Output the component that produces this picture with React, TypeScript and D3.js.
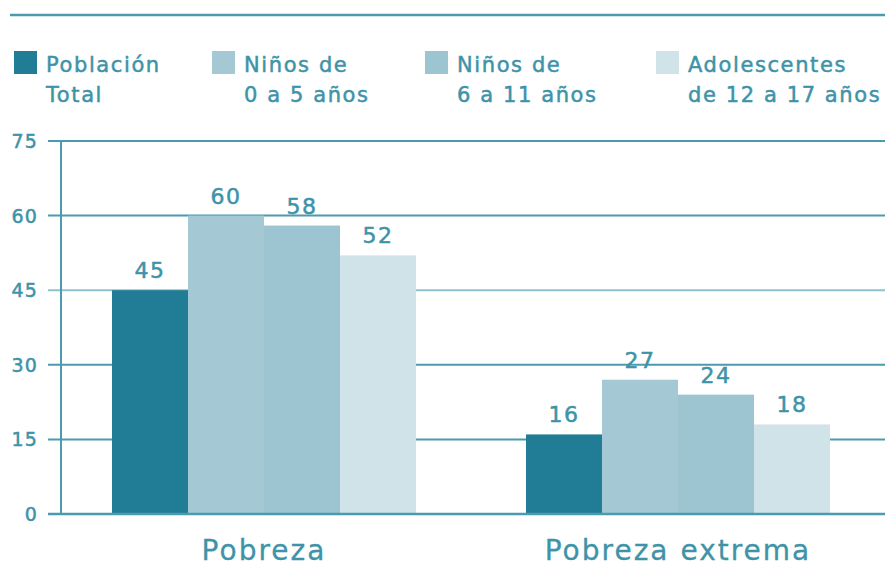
import React, { useRef, useEffect } from "react";
import * as d3 from "d3";

const groups = ["Pobreza", "Pobreza extrema"];
const seriesNames = ["total", "ninos05", "ninos611", "adol"];
const legendLines = [
  ["Población", "Total"],
  ["Niños de", "0 a 5 años"],
  ["Niños de", "6 a 11 años"],
  ["Adolescentes", "de 12 a 17 años"],
];
const pobreza = [45, 60, 58, 52];
const pobrezaExtrema = [16, 27, 24, 18];
const yTicks = [0, 15, 30, 45, 60, 75];
const colors = ["#217d96", "#a5c9d4", "#9cc4d1", "#d0e3e9"];

const W = 885;
const H = 585;
const textColor = "#3e93a8";
const lineColor = "#4a9ab0";
const font = "'DejaVu Sans', sans-serif";

const App = () => {
  const ref = useRef<SVGSVGElement | null>(null);

  useEffect(() => {
    const svg = d3.select(ref.current);
    svg.selectAll("*").remove();

    const data = groups.map((g, i) => ({
      group: g,
      values: i === 0 ? pobreza : pobrezaExtrema,
    }));

    const y = d3.scaleLinear().domain([0, 75]).range([514, 141]);
    const x0 = d3.scaleBand().domain(groups).range([57, 885]).padding(0);
    const bw = x0.bandwidth();
    const x1 = d3
      .scaleBand()
      .domain(seriesNames)
      .range([bw / 2 - 152, bw / 2 + 152])
      .padding(0);

    // medium-ish weight text
    const styleText = (sel: any, size: number, ls: number) =>
      sel
        .attr("fill", textColor)
        .attr("stroke", textColor)
        .attr("stroke-width", 0.5)
        .style("font-family", font)
        .style("font-size", size + "px")
        .style("letter-spacing", ls + "px");

    // top rule
    svg.append("line")
      .attr("x1", 10).attr("x2", W)
      .attr("y1", 15).attr("y2", 15)
      .attr("stroke", lineColor).attr("stroke-width", 2.5);

    // legend
    const legX = [14, 212, 425, 656];
    const leg = svg.append("g");
    legendLines.forEach((lines, i) => {
      leg.append("rect")
        .attr("x", legX[i]).attr("y", 51)
        .attr("width", 23).attr("height", 23)
        .attr("fill", colors[i]);
      lines.forEach((t, j) => {
        styleText(
          leg.append("text")
            .attr("x", legX[i] + 32)
            .attr("y", 72 + j * 30),
          21, 1.6
        ).text(t);
      });
    });

    // gridlines + ticks
    const grid = svg.append("g");
    yTicks.forEach((t) => {
      grid.append("line")
        .attr("x1", 48).attr("x2", W)
        .attr("y1", y(t)).attr("y2", y(t))
        .attr("stroke", t === 45 ? "#8fc0cd" : lineColor)
        .attr("stroke-width", 2);
      styleText(
        grid.append("text")
          .attr("x", 38).attr("y", y(t) + 7)
          .attr("text-anchor", "end"),
        19, 1.2
      ).text(t);
    });

    // y axis line
    svg.append("line")
      .attr("x1", 61).attr("x2", 61)
      .attr("y1", y(75) - 1).attr("y2", y(0))
      .attr("stroke", lineColor).attr("stroke-width", 2);

    // bars
    const g = svg.selectAll(".grp")
      .data(data)
      .enter()
      .append("g")
      .attr("class", "grp")
      .attr("transform", (d) => "translate(" + x0(d.group) + ",0)");

    g.selectAll("rect")
      .data((d) => d.values.map((v, i) => ({ key: seriesNames[i], v, i })))
      .enter()
      .append("rect")
      .attr("x", (d) => x1(d.key)!)
      .attr("width", x1.bandwidth())
      .attr("y", (d) => y(d.v))
      .attr("height", (d) => y(0) - y(d.v))
      .attr("fill", (d) => colors[d.i]);

    styleText(
      g.selectAll(".val")
        .data((d) => d.values.map((v, i) => ({ key: seriesNames[i], v })))
        .enter()
        .append("text")
        .attr("class", "val")
        .attr("x", (d) => x1(d.key)! + x1.bandwidth() / 2)
        .attr("y", (d) => y(d.v) - 12)
        .attr("text-anchor", "middle"),
      22, 1.5
    ).text((d: any) => d.v);

    // baseline
    svg.append("line")
      .attr("x1", 48).attr("x2", W)
      .attr("y1", y(0)).attr("y2", y(0))
      .attr("stroke", lineColor).attr("stroke-width", 2.5);

    // category labels
    groups.forEach((grp) => {
      styleText(
        svg.append("text")
          .attr("x", x0(grp)! + bw / 2)
          .attr("y", 560)
          .attr("text-anchor", "middle"),
        28, 2
      ).attr("stroke-width", 0.3).text(grp);
    });
  }, []);

  return (
    <svg
      ref={ref}
      width={W}
      height={H}
      style={{ position: "absolute", left: 0, top: 0, background: "#fff" }}
    />
  );
};

export default App;
